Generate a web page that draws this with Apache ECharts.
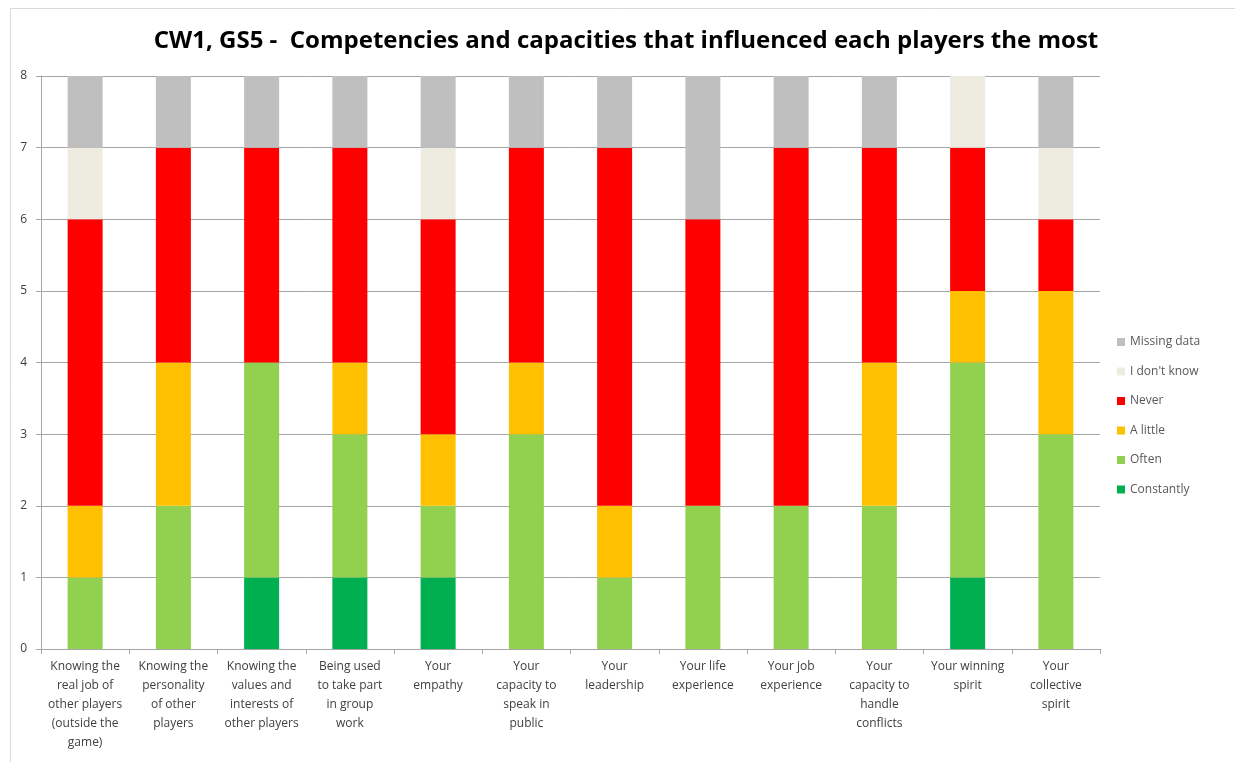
<!DOCTYPE html>
<html>
<head>
<meta charset="utf-8">
<script src="https://cdn.jsdelivr.net/npm/echarts@6/dist/echarts.min.js"></script>
<style>
  html, body { margin: 0; padding: 0; background: #fff; }
  #chart { width: 1235px; height: 762px; }
</style>
</head>
<body>
<div id="chart"></div>
<script>
// categories (line breaks as in the original chart)
const categories = [
    'Knowing the\nreal job of\nother players\n(outside the\ngame)',
    'Knowing the\npersonality\nof other\nplayers',
    'Knowing the\nvalues and\ninterests of\nother players',
    'Being used\nto take part\nin group\nwork',
    'Your\nempathy',
    'Your\ncapacity to\nspeak in\npublic',
    'Your\nleadership',
    'Your life\nexperience',
    'Your job\nexperience',
    'Your\ncapacity to\nhandle\nconflicts',
    'Your winning\nspirit',
    'Your\ncollective\nspirit'
];

const constantly = [0, 0, 1, 1, 1, 0, 0, 0, 0, 0, 1, 0];
const often      = [1, 2, 3, 2, 1, 3, 1, 2, 2, 2, 3, 3];
const aLittle    = [1, 2, 0, 1, 1, 1, 1, 0, 0, 2, 1, 2];
const never      = [4, 3, 3, 3, 3, 3, 5, 4, 5, 3, 2, 1];
const dontKnow   = [1, 0, 0, 0, 1, 0, 0, 0, 0, 0, 1, 1];
const missing    = [1, 1, 1, 1, 1, 1, 1, 2, 1, 1, 0, 1];

const yTicks = [0, 1, 2, 3, 4, 5, 6, 7, 8];

const chart = echarts.init(document.getElementById('chart'));

function bar(name, data, color) {
    return {
        name: name,
        type: 'bar',
        stack: 'total',
        barWidth: 35,
        data: data,
        itemStyle: { color: color },
        emphasis: { disabled: true }
    };
}

const options = {
    animation: false,
    textStyle: { fontFamily: 'Open Sans' },
    title: {
        text: 'CW1, GS5 -  Competencies and capacities that influenced each players the most',
        left: 621,
        textAlign: 'center',
        top: 24,
        textStyle: {
            fontFamily: 'Open Sans',
            fontSize: 24,
            fontWeight: 'bold',
            color: '#000'
        }
    },
    graphic: [{
        type: 'rect',
        shape: { x: 10.5, y: 8.5, width: 1230, height: 760 },
        style: { fill: 'none', stroke: '#d9d9d9', lineWidth: 1 },
        silent: true
    }],
    legend: {
        orient: 'vertical',
        left: 1112,
        top: 331,
        itemWidth: 8,
        itemHeight: 8,
        itemGap: 17.5,
        icon: 'rect',
        textStyle: { fontSize: 12, color: '#595959', fontFamily: 'Open Sans' },
        data: ['Missing data', "I don't know", 'Never', 'A little', 'Often', 'Constantly']
    },
    grid: {
        left: 41,
        right: 1235 - 1100,
        top: 76,
        bottom: 762 - 649,
        containLabel: false
    },
    xAxis: {
        type: 'category',
        data: categories,
        axisLine: { lineStyle: { color: '#a6a6a6' } },
        axisTick: { show: true, alignWithLabel: false, length: 5, lineStyle: { color: '#a6a6a6' } },
        axisLabel: {
            interval: 0,
            color: '#404040',
            fontSize: 12,
            lineHeight: 19,
            margin: 8
        }
    },
    yAxis: {
        type: 'value',
        min: yTicks[0],
        max: yTicks[yTicks.length - 1],
        interval: 1,
        axisLine: { show: true, lineStyle: { color: '#a6a6a6' } },
        axisTick: { show: true, length: 5, lineStyle: { color: '#a6a6a6' } },
        axisLabel: { color: '#404040', fontSize: 12, margin: 14 },
        splitLine: { lineStyle: { color: '#a6a6a6' } }
    },
    series: [
        bar('Constantly', constantly, '#00b050'),
        bar('Often', often, '#92d050'),
        bar('A little', aLittle, '#ffc000'),
        bar('Never', never, '#ff0000'),
        bar("I don't know", dontKnow, '#eeece1'),
        bar('Missing data', missing, '#bfbfbf')
    ]
};

chart.setOption(options);
</script>
</body>
</html>
